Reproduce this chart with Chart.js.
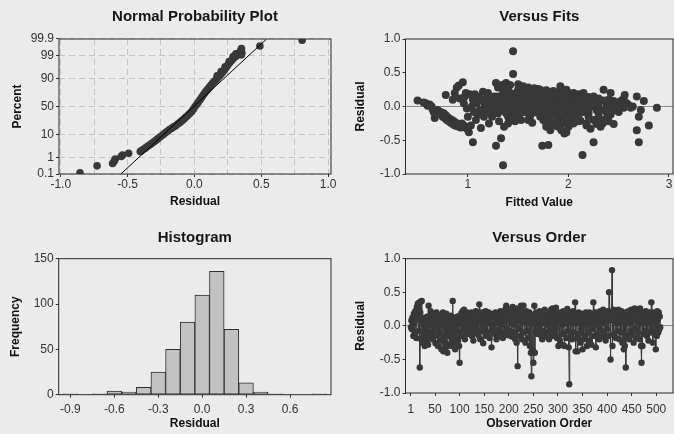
<!DOCTYPE html>
<html>
<head>
<meta charset="utf-8">
<script src="https://cdn.jsdelivr.net/npm/chart.js@4.4.1/dist/chart.umd.min.js"></script>
<style>
  html, body { margin: 0; padding: 0; background: #ebebeb; overflow: hidden; }
  #wrap { position: relative; width: 674px; height: 434px; overflow: hidden; }
  canvas { position: absolute; }
</style>
</head>
<body>
<div id="wrap">
  <canvas id="npp" width="337" height="217" style="left:0;top:0;width:337px;height:217px"></canvas>
  <canvas id="fits" width="340" height="217" style="left:337px;top:0;width:340px;height:217px"></canvas>
  <canvas id="hist" width="337" height="217" style="left:0;top:217px;width:337px;height:217px"></canvas>
  <canvas id="order" width="340" height="217" style="left:337px;top:217px;width:340px;height:217px"></canvas>
</div>
<script>
// ---- data ----

// normal probability plot: [residual, percent]
const nppPoints = [
  [-0.856, 0.12], [-0.728, 0.33], [-0.612, 0.45], [-0.600, 0.6], [-0.592, 0.8],
  [-0.548, 1.1], [-0.538, 1.3], [-0.492, 1.6], [-0.405, 1.95], [-0.395, 2.2],
  [-0.38, 2.5], [-0.365, 2.9], [-0.35, 3.4], [-0.335, 3.9], [-0.32, 4.5],
  [-0.305, 5.2], [-0.29, 6.0], [-0.275, 6.9], [-0.26, 7.9], [-0.245, 9.0],
  [-0.23, 10.2], [-0.215, 11.6], [-0.20, 13], [-0.185, 14.5], [-0.17, 16],
  [-0.155, 17.5], [-0.14, 19], [-0.125, 21], [-0.11, 23], [-0.095, 25.5],
  [-0.08, 28], [-0.065, 31], [-0.05, 34], [-0.035, 37.5], [-0.02, 41],
  [-0.008, 45], [0.005, 50], [0.018, 54], [0.03, 58], [0.042, 62],
  [0.054, 66], [0.066, 70], [0.078, 73.5], [0.09, 76.5], [0.102, 79],
  [0.114, 81.5], [0.126, 84], [0.138, 86], [0.15, 87.5], [0.162, 89],
  [0.175, 90.5], [0.188, 92], [0.2, 93.2], [0.212, 94.3], [0.224, 95.3],
  [0.236, 96.2], [0.248, 97], [0.26, 97.6], [0.272, 98.1], [0.284, 98.45],
  [0.296, 98.7], [0.308, 98.9], [0.32, 99.05], [0.33, 99.2], [0.338, 99.3],
  [0.344, 99.4], [0.348, 99.5], [0.352, 99.6], [0.17, 92], [0.2, 94.5],
  [0.23, 96.5], [0.26, 98], [0.29, 98.9], [0.31, 99.2], [0.352, 99.1],
  [0.355, 99.3], [0.49, 99.72], [0.806, 99.88]
];
const nppLineResidual = [-0.55, 0.54];
const nppLinePercent = [0.1, 99.9];
const nppTickPercent = [0.1, 1, 10, 50, 90, 99, 99.9];
const nppTickLabels = ['0.1', '1', '10', '50', '90', '99', '99.9'];
const nppResidualTicks = [-1.0, -0.75, -0.5, -0.25, 0, 0.25, 0.5, 0.75, 1.0];
const nppResidualLabelled = [-1.0, -0.5, 0, 0.5, 1.0];

// versus fits: [fitted value, residual]
const fitsPoints = [
  [0.50, 0.09], [0.56, 0.06], [0.58, 0.05], [0.60, 0.01], [0.62, 0.03], [0.64, 0.0],
  [0.65, -0.04], [0.66, -0.08], [0.67, -0.17], [0.68, -0.12], [0.70, -0.05], [0.71, -0.1],
  [0.73, -0.08], [0.74, -0.12], [0.75, -0.15], [0.76, -0.1], [0.77, -0.17], [0.78, -0.13],
  [0.79, -0.2], [0.80, -0.16], [0.81, -0.22], [0.82, -0.18], [0.83, -0.24], [0.84, -0.2],
  [0.85, -0.26], [0.86, -0.22], [0.87, -0.28], [0.88, -0.24], [0.89, -0.29], [0.90, -0.26],
  [0.91, -0.3], [0.92, -0.27], [0.93, -0.31], [0.94, -0.25], [0.96, -0.28],
  [0.78, 0.17], [0.85, 0.1], [0.87, 0.2], [0.89, 0.28], [0.91, 0.31], [0.95, 0.36],
  [0.92, 0.12], [0.96, 0.05], [0.97, 0.15], [0.99, -0.03], [0.98, 0.2],
  [1.00, -0.15], [0.99, -0.33], [1.01, -0.38], [1.03, -0.28], [1.05, -0.53], [1.02, 0.18],
  [1.04, 0.0], [1.05, 0.1], [1.06, -0.08], [1.07, 0.18], [1.08, -0.2], [1.09, 0.05],
  [1.10, -0.12], [1.11, 0.14], [1.12, -0.05], [1.13, -0.32], [1.14, 0.1], [1.15, 0.22],
  [1.16, -0.15], [1.17, 0.02], [1.18, 0.12], [1.19, -0.08], [1.20, 0.2], [1.21, -0.25],
  [1.23, 0.08], [1.24, -0.15], [1.26, 0.15], [1.27, -0.1], [1.28, 0.35], [1.28, -0.58],
  [1.30, 0.28], [1.31, -0.22], [1.33, -0.47], [1.34, 0.32], [1.35, -0.87], [1.36, -0.3],
  [1.37, 0.25], [1.38, 0.35], [1.40, -0.25], [1.42, 0.32], [1.45, 0.82], [1.45, 0.48],
  [1.47, -0.22], [1.50, 0.33], [1.53, -0.2], [1.55, 0.3], [1.60, 0.28], [1.64, -0.24],
  [1.66, 0.27], [1.70, 0.26],
  // dense middle
  [1.40, 0.25], [1.50, 0.25], [1.58, 0.25], [1.65, 0.24], [1.72, 0.25], [1.78, 0.24], [1.85, 0.23], [1.92, 0.25],
  [1.35, 0.2], [1.42, 0.2], [1.48, 0.2], [1.55, 0.21], [1.62, 0.2], [1.68, 0.2], [1.75, 0.21], [1.82, 0.2],
  [1.88, 0.19], [1.95, 0.2], [2.02, 0.19],
  [1.45, 0.18], [1.59, 0.18], [1.72, 0.17], [1.85, 0.18],
  [1.30, 0.15], [1.38, 0.15], [1.45, 0.16], [1.52, 0.15], [1.58, 0.15], [1.65, 0.16], [1.72, 0.15], [1.78, 0.15],
  [1.85, 0.16], [1.92, 0.15], [1.98, 0.14], [2.05, 0.15], [2.12, 0.15], [2.20, 0.14],
  [1.42, 0.13], [1.55, 0.12], [1.69, 0.13], [1.82, 0.12], [1.96, 0.13], [2.09, 0.12],
  [1.25, 0.1], [1.32, 0.1], [1.40, 0.11], [1.47, 0.1], [1.53, 0.1], [1.60, 0.11], [1.67, 0.1], [1.73, 0.1],
  [1.80, 0.11], [1.87, 0.1], [1.93, 0.1], [2.00, 0.11], [2.07, 0.1], [2.13, 0.1], [2.20, 0.09], [2.28, 0.1], [2.35, 0.09],
  [1.44, 0.08], [1.57, 0.07], [1.70, 0.08], [1.84, 0.07], [1.98, 0.08], [2.12, 0.07], [2.26, 0.07],
  [1.22, 0.05], [1.30, 0.05], [1.37, 0.06], [1.43, 0.05], [1.50, 0.05], [1.57, 0.06], [1.63, 0.05], [1.70, 0.05],
  [1.77, 0.06], [1.83, 0.05], [1.90, 0.05], [1.97, 0.06], [2.03, 0.05], [2.10, 0.05], [2.17, 0.06], [2.23, 0.05],
  [2.30, 0.05], [2.38, 0.04], [2.45, 0.05],
  [1.46, 0.03], [1.60, 0.02], [1.74, 0.03], [1.88, 0.02], [2.02, 0.03], [2.16, 0.02],
  [1.20, 0.0], [1.28, 0.0], [1.35, 0.01], [1.42, 0.0], [1.48, 0.0], [1.55, 0.01], [1.62, 0.0], [1.68, 0.0],
  [1.75, 0.01], [1.82, 0.0], [1.88, 0.0], [1.95, 0.01], [2.02, 0.0], [2.08, 0.0], [2.15, 0.01], [2.22, 0.0],
  [2.30, 0.0], [2.40, 0.01], [2.50, 0.0],
  [1.50, -0.03], [1.64, -0.02], [1.78, -0.03], [1.92, -0.02], [2.06, -0.03], [2.20, -0.02],
  [1.25, -0.05], [1.33, -0.05], [1.40, -0.04], [1.47, -0.05], [1.53, -0.05], [1.60, -0.04], [1.67, -0.05],
  [1.73, -0.05], [1.80, -0.04], [1.87, -0.05], [1.93, -0.05], [2.00, -0.04], [2.07, -0.05], [2.13, -0.05],
  [2.20, -0.04], [2.28, -0.05], [2.36, -0.05],
  [1.56, -0.08], [1.71, -0.07], [1.85, -0.08], [2.00, -0.07], [2.15, -0.08],
  [1.30, -0.1], [1.38, -0.1], [1.45, -0.09], [1.52, -0.1], [1.60, -0.1], [1.68, -0.09], [1.75, -0.1], [1.82, -0.1],
  [1.90, -0.09], [1.97, -0.1], [2.05, -0.1], [2.12, -0.09], [2.20, -0.1], [2.30, -0.1], [2.38, -0.09],
  [1.40, -0.15], [1.50, -0.15], [1.62, -0.14], [1.72, -0.15], [1.80, -0.15], [1.88, -0.14], [1.95, -0.15],
  [2.02, -0.15], [2.10, -0.14], [2.20, -0.15], [2.30, -0.15], [2.40, -0.14],
  [1.45, -0.2], [1.60, -0.2], [1.75, -0.2], [1.82, -0.21], [1.90, -0.2], [1.95, -0.2], [2.05, -0.2], [2.12, -0.21],
  [2.25, -0.2], [2.35, -0.2],
  [1.78, -0.25], [1.85, -0.25], [1.93, -0.26], [2.00, -0.25], [2.18, -0.25], [2.28, -0.26],
  // lower scatter
  [1.74, -0.58], [1.80, -0.57], [1.78, -0.3], [1.82, -0.35], [1.86, -0.28], [1.90, -0.3], [1.93, -0.35],
  [1.96, -0.4], [1.98, -0.38], [2.00, -0.3], [2.05, -0.25], [2.10, -0.22], [2.14, -0.72], [2.18, -0.28],
  [2.22, -0.33], [2.25, -0.53], [2.27, -0.2], [2.32, -0.3], [2.34, -0.25], [2.38, -0.18], [2.40, -0.22],
  [2.45, -0.26],
  // upper right
  [1.92, 0.3], [1.98, 0.25], [2.05, 0.2], [2.10, 0.18], [2.15, 0.2], [2.25, 0.15], [2.30, 0.12], [2.35, 0.25],
  [2.42, 0.2], [2.40, 0.1], [2.45, 0.08], [2.48, 0.05], [2.50, 0.03], [2.52, 0.08], [2.55, 0.12], [2.56, 0.17],
  [2.58, 0.05], [2.60, 0.02], [2.62, -0.02], [2.64, 0.0], [2.55, -0.02], [2.50, -0.08], [2.45, -0.05], [2.42, -0.12],
  // far right
  [2.68, 0.15], [2.70, -0.15], [2.72, -0.05], [2.75, 0.08], [2.68, -0.35], [2.70, -0.53], [2.80, -0.28], [2.88, -0.02]
];
const fitsXTicks = [1, 2, 3];
const residualTicks = [-1.0, -0.5, 0.0, 0.5, 1.0];

// histogram
const histMidpoints = [-0.9, -0.8, -0.7, -0.6, -0.5, -0.4, -0.3, -0.2, -0.1, 0.0, 0.1, 0.2, 0.3, 0.4, 0.5, 0.6, 0.7, 0.8];
const histCounts = [1, 0, 1, 4, 3, 8, 25, 50, 80, 110, 136, 72, 13, 3, 1, 0, 0, 1];
const histXTicks = [-0.9, -0.6, -0.3, 0.0, 0.3, 0.6];
const histYTicks = [0, 50, 100, 150];

// versus order: residual for observation 1..n
const orderResidual = [
  -0.02, 0.08, -0.05, 0.12, 0.03, -0.15, 0.18, 0.05, -0.1, 0.22, 0.15, -0.18, 0.28, 0.1, 0.33, -0.08, 0.25, 0.35, -0.62, 0.2,
  0.36, -0.2, 0.37, 0.1, -0.25, 0.05, -0.12, 0.12, -0.3, -0.05, 0.08, -0.22, 0.02, -0.15, 0.14, -0.28, 0.3, 0.06, -0.18, 0.1,
  0.22, -0.1, 0.04, -0.2, 0.15, 0.0, -0.08, 0.18, -0.15, 0.12, -0.26, 0.08, 0.2, -0.05, 0.14, -0.3, 0.02, 0.16, -0.12, 0.1,
  -0.22, 0.05, -0.35, 0.12, -0.18, 0.2, -0.38, 0.0, 0.15, -0.25, 0.08, -0.32, 0.18, -0.1, -0.4, 0.12, -0.15, 0.05, -0.28, 0.1,
  -0.05, 0.15, -0.3, 0.08, -0.2, 0.37, -0.12, 0.02, -0.25, 0.12, -0.35, 0.05, -0.18, 0.1, -0.08, 0.14, -0.22, 0.06, -0.3, -0.55,
  0.1, -0.1, 0.18, 0.02, -0.15, 0.22, 0.08, -0.05, 0.24, 0.12, -0.2, 0.16, 0.04, -0.08, 0.2, 0.1, -0.12, 0.14, 0.06, -0.02,
  0.18, -0.06, 0.12, 0.2, -0.15, 0.08, 0.14, -0.22, 0.1, 0.02, 0.16, -0.1, 0.22, 0.05, -0.04, 0.12, 0.18, -0.14, 0.08, 0.32,
  0.12, -0.2, 0.06, 0.15, -0.08, 0.2, 0.02, -0.26, 0.1, 0.18, -0.05, 0.12, 0.22, -0.15, 0.08, 0.14, -0.1, 0.04, 0.2, 0.1,
  -0.18, 0.12, 0.06, -0.08, -0.32, 0.15, 0.1, -0.05, 0.18, 0.02, 0.14, -0.12, 0.2, 0.08, -0.2, 0.16, 0.04, 0.12, -0.06, 0.18,
  0.1, -0.15, 0.22, 0.05, -0.1, 0.14, 0.02, -0.18, 0.2, 0.08, 0.16, -0.12, 0.12, 0.26, 0.3, -0.05, 0.18, 0.1, -0.14, 0.22,
  0.14, -0.08, 0.2, 0.06, 0.24, -0.16, 0.12, 0.28, 0.02, -0.1, 0.22, 0.16, -0.2, 0.1, 0.26, -0.25, 0.18, -0.6, 0.12, 0.2,
  -0.05, 0.24, 0.08, -0.15, 0.3, 0.12, -0.2, 0.18, 0.06, 0.3, -0.1, 0.2, 0.14, -0.25, 0.1, 0.22, -0.08, 0.16, 0.04, -0.18,
  0.12, 0.2, -0.3, 0.08, -0.4, -0.75, 0.15, -0.35, 0.1, -0.55, 0.05, 0.3, -0.4, 0.18, -0.1, 0.14, 0.02, 0.2, -0.12, 0.1,
  0.16, -0.05, 0.22, 0.08, -0.14, 0.12, 0.2, -0.2, 0.04, 0.18, 0.1, -0.08, 0.24, 0.06, -0.16, 0.14, 0.2, 0.02, -0.1, 0.16,
  0.08, -0.2, 0.2, 0.12, -0.06, 0.24, 0.1, -0.15, 0.26, 0.04, 0.18, -0.1, 0.22, 0.14, -0.04, 0.27, 0.08, -0.18, 0.2, 0.12,
  -0.3, 0.1, 0.18, -0.22, 0.06, 0.2, -0.28, 0.14, 0.02, -0.12, 0.22, 0.08, -0.3, 0.16, 0.04, 0.2, -0.18, 0.1, 0.25, -0.08,
  0.14, -0.32, -0.87, 0.1, 0.2, -0.15, 0.06, 0.18, -0.2, 0.12, 0.22, -0.1, 0.08, 0.16, 0.35, -0.38, 0.04, 0.14, -0.18, -0.38,
  0.1, 0.2, -0.12, 0.06, 0.16, -0.25, 0.12, -0.05, 0.18, -0.35, 0.08, 0.14, -0.2, 0.02, 0.12, -0.15, 0.2, 0.06, -0.3, 0.1,
  0.16, -0.1, 0.04, 0.2, -0.22, 0.12, 0.08, -0.28, 0.14, 0.18, -0.05, 0.35, 0.1, -0.15, 0.06, 0.2, -0.32, 0.12, 0.02, 0.16,
  -0.12, 0.2, 0.08, -0.2, 0.14, 0.22, -0.06, 0.1, 0.18, -0.16, 0.04, 0.24, 0.12, -0.1, 0.2, 0.06, -0.22, 0.16, 0.1, -0.05,
  0.22, 0.14, -0.15, 0.5, 0.08, 0.18, -0.5, 0.12, 0.2, 0.83, -0.3, 0.1, 0.24, -0.12, 0.16, 0.06, 0.22, -0.18, 0.1, 0.2,
  -0.08, 0.14, 0.24, 0.04, -0.2, 0.18, 0.1, -0.1, 0.22, 0.06, -0.25, 0.16, 0.2, -0.35, 0.12, -0.3, 0.08, -0.62, 0.14, 0.2,
  -0.15, 0.1, 0.22, 0.04, -0.2, 0.16, 0.12, -0.08, 0.24, 0.06, -0.14, 0.2, 0.1, -0.25, 0.18, 0.26, -0.05, 0.12, 0.2, -0.18,
  0.08, 0.16, -0.1, 0.24, 0.12, -0.2, 0.26, 0.04, -0.3, -0.55, 0.1, -0.3, 0.18, 0.06, -0.12, 0.2, 0.14, -0.08, 0.22, 0.1,
  -0.15, 0.18, 0.04, -0.22, 0.12, 0.2, -0.1, 0.08, 0.16, 0.35, -0.05, 0.14, -0.25, 0.1, 0.2, -0.12, 0.06, 0.18, -0.35, 0.12,
  -0.15, 0.22, 0.08, -0.1, 0.2, -0.05, 0.14, -0.02
];
const orderXTicks = [1, 50, 100, 150, 200, 250, 300, 350, 400, 450, 500];

// ---- helpers ----
const INK = '#383838';
Chart.defaults.font.family = '"Liberation Sans", Arial, sans-serif';
Chart.defaults.color = '#333';

// inverse normal cdf, used for the probability axis
function probit(p) {
  const a = [-3.969683028665376e+01, 2.209460984245205e+02, -2.759285104469687e+02, 1.383577518672690e+02, -3.066479806614716e+01, 2.506628277459239e+00];
  const b = [-5.447609879822406e+01, 1.615858368580409e+02, -1.556989798598866e+02, 6.680131188771972e+01, -1.328068155288572e+01];
  const c = [-7.784894002430293e-03, -3.223964580411365e-01, -2.400758277161838e+00, -2.549732539343734e+00, 4.374664141464968e+00, 2.938163982698783e+00];
  const d = [7.784695709041462e-03, 3.224671290700398e-01, 2.445134137142996e+00, 3.754408661907416e+00];
  const lo = 0.02425;
  if (p < lo) {
    const q = Math.sqrt(-2 * Math.log(p));
    return (((((c[0] * q + c[1]) * q + c[2]) * q + c[3]) * q + c[4]) * q + c[5]) / ((((d[0] * q + d[1]) * q + d[2]) * q + d[3]) * q + 1);
  }
  if (p > 1 - lo) return -probit(1 - p);
  const q = p - 0.5, r = q * q;
  return (((((a[0] * r + a[1]) * r + a[2]) * r + a[3]) * r + a[4]) * r + a[5]) * q / (((((b[0] * r + b[1]) * r + b[2]) * r + b[3]) * r + b[4]) * r + 1);
}

// plot frame + panel title
const framePlugin = {
  id: 'frame',
  afterDatasetsDraw(chart) {
    const { ctx, chartArea: a } = chart;
    ctx.save();
    ctx.strokeStyle = '#2a2a2a';
    ctx.lineWidth = 1;
    ctx.strokeRect(a.left, a.top, a.right - a.left, a.bottom - a.top);
    ctx.restore();
  },
  afterDraw(chart, args, opts) {
    const { ctx, chartArea: a } = chart;
    ctx.save();
    ctx.font = 'bold 15px "Liberation Sans", Arial, sans-serif';
    ctx.fillStyle = '#161616';
    ctx.textAlign = 'center';
    ctx.textBaseline = 'middle';
    ctx.fillText(opts.text, (a.left + a.right) / 2, opts.y);
    ctx.restore();
  }
};

function yAxis(o) {
  return {
    type: 'linear', position: 'left', min: o.min, max: o.max,
    afterBuildTicks: s => { s.ticks = o.ticks.map(v => ({ value: v })); },
    afterFit: s => { s.width = o.width; s.paddingTop = 0; s.paddingBottom = 0; },
    ticks: { autoSkip: false, padding: 2, font: { size: 12 }, color: '#333', callback: o.label },
    grid: {
      drawOnChartArea: !!o.gridColor, color: o.gridColor || 'transparent',
      tickLength: 3, tickColor: '#333', lineWidth: 1
    },
    border: { display: false, dash: o.dash || [] },
    title: { display: true, text: o.title, color: '#111', font: { size: 12, weight: 'bold' }, padding: { top: o.titlePad, bottom: 0 } }
  };
}

function xAxis(o) {
  return {
    type: 'linear', position: 'bottom', min: o.min, max: o.max, offset: false,
    afterBuildTicks: s => { s.ticks = o.ticks.map(v => ({ value: v })); },
    afterFit: s => { s.height = o.height; s.paddingLeft = 0; s.paddingRight = 0; },
    ticks: { autoSkip: false, maxRotation: 0, minRotation: 0, padding: o.tickPad, font: { size: 12 }, color: '#333', callback: o.label },
    grid: {
      offset: false, drawOnChartArea: !!o.gridColor, color: o.gridColor || 'transparent',
      tickLength: 3, tickColor: o.tickColor || '#333', lineWidth: 1
    },
    border: { display: false, dash: o.dash || [] },
    title: { display: true, text: o.title, color: '#111', font: { size: 12, weight: 'bold' }, padding: { top: 0, bottom: o.titlePad } }
  };
}

const common = {
  responsive: false, animation: false, devicePixelRatio: 1,
  plugins: { legend: { display: false }, tooltip: { enabled: false } }
};
const fmt1 = v => Number(v).toFixed(1);
const zeroLine = ctx => (ctx.tick && ctx.tick.value === 0) ? '#8a8a8a' : 'rgba(0,0,0,0)';

// ---- Normal Probability Plot ----
new Chart(document.getElementById('npp'), {
  type: 'scatter',
  data: {
    datasets: [
      {
        data: nppLineResidual.map((r, i) => ({ x: r, y: probit(nppLinePercent[i] / 100) })),
        showLine: true, borderColor: '#000', borderWidth: 1, pointRadius: 0, order: 0
      },
      {
        data: nppPoints.map(p => ({ x: p[0], y: probit(p[1] / 100) })),
        pointRadius: 3.8, pointBackgroundColor: INK, pointBorderWidth: 0, order: 1
      }
    ]
  },
  options: Object.assign({}, common, {
    layout: { padding: { top: 39, right: 6, bottom: 0, left: 0 } },
    plugins: Object.assign({}, common.plugins, { frame: { text: 'Normal Probability Plot', y: 17 } }),
    scales: {
      x: xAxis({
        min: -1.013, max: 1.022, ticks: nppResidualTicks, height: 43, tickPad: 0, titlePad: 8,
        title: 'Residual', gridColor: '#c4c4c4', dash: [6, 4],
        label: v => nppResidualLabelled.includes(v) ? fmt1(v) : '',
        tickColor: ctx => (ctx.tick && nppResidualLabelled.includes(ctx.tick.value)) ? '#333' : 'rgba(0,0,0,0)'
      }),
      y: yAxis({
        min: probit(0.001), max: probit(0.999), ticks: nppTickPercent.map(p => probit(p / 100)),
        width: 59, titlePad: 10, title: 'Percent', gridColor: '#c4c4c4', dash: [6, 4],
        label: (v, i) => nppTickLabels[i]
      })
    }
  }),
  plugins: [framePlugin]
});

// ---- Versus Fits ----
new Chart(document.getElementById('fits'), {
  type: 'scatter',
  data: {
    datasets: [{
      data: fitsPoints.map(p => ({ x: p[0], y: p[1] })),
      pointRadius: 4, pointBackgroundColor: INK, pointBorderWidth: 0
    }]
  },
  options: Object.assign({}, common, {
    layout: { padding: { top: 39, right: 0, bottom: 0, left: 0 } },
    plugins: Object.assign({}, common.plugins, { frame: { text: 'Versus Fits', y: 17 } }),
    scales: {
      x: xAxis({
        min: 0.38, max: 3.04, ticks: fitsXTicks, height: 43, tickPad: 0, titlePad: 7,
        title: 'Fitted Value', label: v => String(v)
      }),
      y: yAxis({
        min: -1, max: 1, ticks: residualTicks, width: 68.5, titlePad: 16,
        title: 'Residual', gridColor: zeroLine, label: fmt1
      })
    }
  }),
  plugins: [framePlugin]
});

// ---- Histogram ----
new Chart(document.getElementById('hist'), {
  type: 'bar',
  data: {
    datasets: [{
      data: histMidpoints.map((m, i) => ({ x: m, y: histCounts[i] })),
      backgroundColor: '#c2c2c2', borderColor: '#2e2e2e', borderWidth: 1, borderSkipped: false,
      barPercentage: 1, categoryPercentage: 1
    }]
  },
  options: Object.assign({}, common, {
    layout: { padding: { top: 41.7, right: 6, bottom: 0, left: 0 } },
    plugins: Object.assign({}, common.plugins, { frame: { text: 'Histogram', y: 21 } }),
    scales: {
      x: xAxis({
        min: -0.98, max: 0.88, ticks: histXTicks, height: 39.3, tickPad: 5, titlePad: 3,
        title: 'Residual', label: fmt1
      }),
      y: yAxis({
        min: 0, max: 150, ticks: histYTicks, width: 58.7, titlePad: 8,
        title: 'Frequency', label: v => String(v)
      })
    }
  }),
  plugins: [framePlugin]
});

// ---- Versus Order ----
new Chart(document.getElementById('order'), {
  type: 'scatter',
  data: {
    datasets: [{
      data: orderResidual.map((r, i) => ({ x: i + 1, y: r })),
      showLine: true, borderColor: INK, borderWidth: 1,
      pointRadius: 3.2, pointBackgroundColor: INK, pointBorderWidth: 0
    }]
  },
  options: Object.assign({}, common, {
    layout: { padding: { top: 41.7, right: 0, bottom: 0, left: 0 } },
    plugins: Object.assign({}, common.plugins, { frame: { text: 'Versus Order', y: 21 } }),
    scales: {
      x: xAxis({
        min: -10, max: 534, ticks: orderXTicks, height: 41, tickPad: 6, titlePad: 3,
        title: 'Observation Order', label: v => String(v)
      }),
      y: yAxis({
        min: -1, max: 1, ticks: residualTicks, width: 68.5, titlePad: 16.5,
        title: 'Residual', gridColor: zeroLine, label: fmt1
      })
    }
  }),
  plugins: [framePlugin]
});
</script>
</body>
</html>
